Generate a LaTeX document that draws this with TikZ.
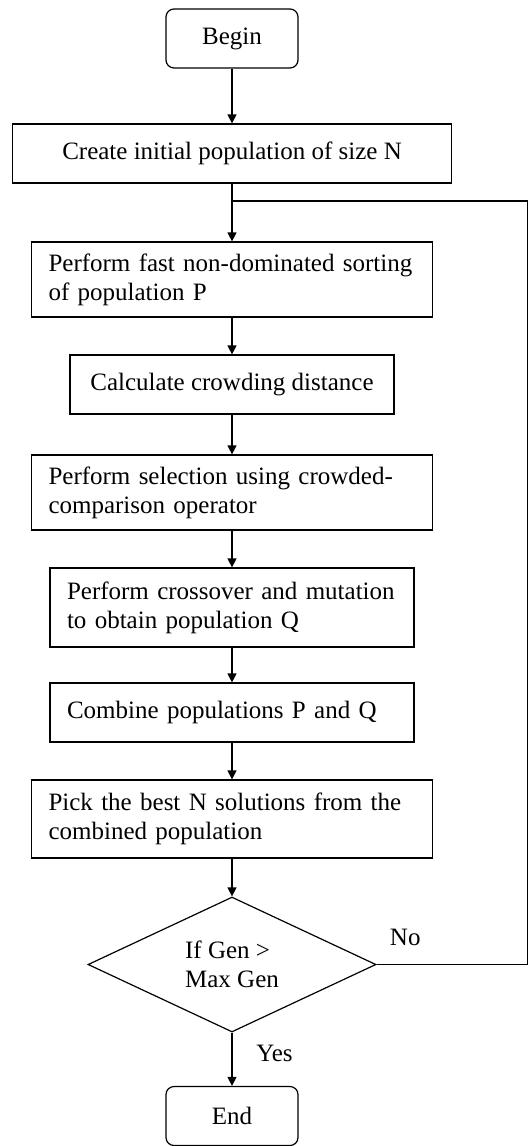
\documentclass[tikz,border=0pt]{standalone}
\usepackage{fontspec}
\setmainfont{Liberation Serif}
\usetikzlibrary{shapes.geometric,arrows.meta}

\begin{document}
\begin{tikzpicture}[x=0.5pt,y=-0.5pt,line width=0.6pt,
        font=\fontsize{12.5}{14.5}\selectfont,
        >={Triangle[length=4.5pt,width=4.5pt]},
        term/.style={draw,rounded corners=4pt,minimum width=66pt,minimum height=29.5pt},
        box/.style={draw,minimum width=#1,minimum height=29.5pt},
        stepbox/.style 2 args={draw,text width=#1,align=left,inner xsep=8.5pt,minimum height=#2},
        test/.style={draw,diamond,aspect=2,minimum width=144pt,minimum height=67.5pt,inner sep=0pt,align=left}]
        \useasboundingbox (0,0) rectangle (528,1146);

        \node[term](0)at(232,38.5) {Begin};
        \node[box=219.5pt](1)at(232,153.5) {Create initial population of size N};
        \node[stepbox={183.5pt}{37.5pt}](2)at(232,279.5) {Perform fast non-dominated sorting\\of population P};
        \node[box=162pt](3)at(232,384.5) {Calculate crowding distance};
        \node[stepbox={183.5pt}{37.5pt}](4)at(232,492.5) {Perform selection using crowded-\\comparison operator};
        \node[stepbox={165pt}{39.5pt}](5)at(232,607.5) {Perform crossover and mutation\\to obtain population Q};
        \node[stepbox={165pt}{29.5pt}](6)at(232,712.5) {Combine populations P and Q};
        \node[stepbox={183.5pt}{39pt}](7)at(232,819) {Pick the best N solutions from the\\combined population};
        \node[test](8)at(232,964.5) {If Gen >\\Max Gen};
        \node[term](9)at(232,1116) {End};

        % loop back corners
        \coordinate(a)at(527.5,964.5);
        \coordinate(b)at(527.5,201);
        \coordinate(c)at(232,201);

        \draw[->](0) -- (1);
        \draw[->](1) -- (2);
        \draw[->](2) -- (3);
        \draw[->](3) -- (4);
        \draw[->](4) -- (5);
        \draw[->](5) -- (6);
        \draw[->](6) -- (7);
        \draw[->](7) -- (8);
        \draw[->](8) --node[pos=0.4,right=8.5pt]{Yes} (9);
        \draw(8.east) --node[pos=0.19,above=6pt]{No} (a) -- (b) -- (c);
    \end{tikzpicture}
\end{document}
